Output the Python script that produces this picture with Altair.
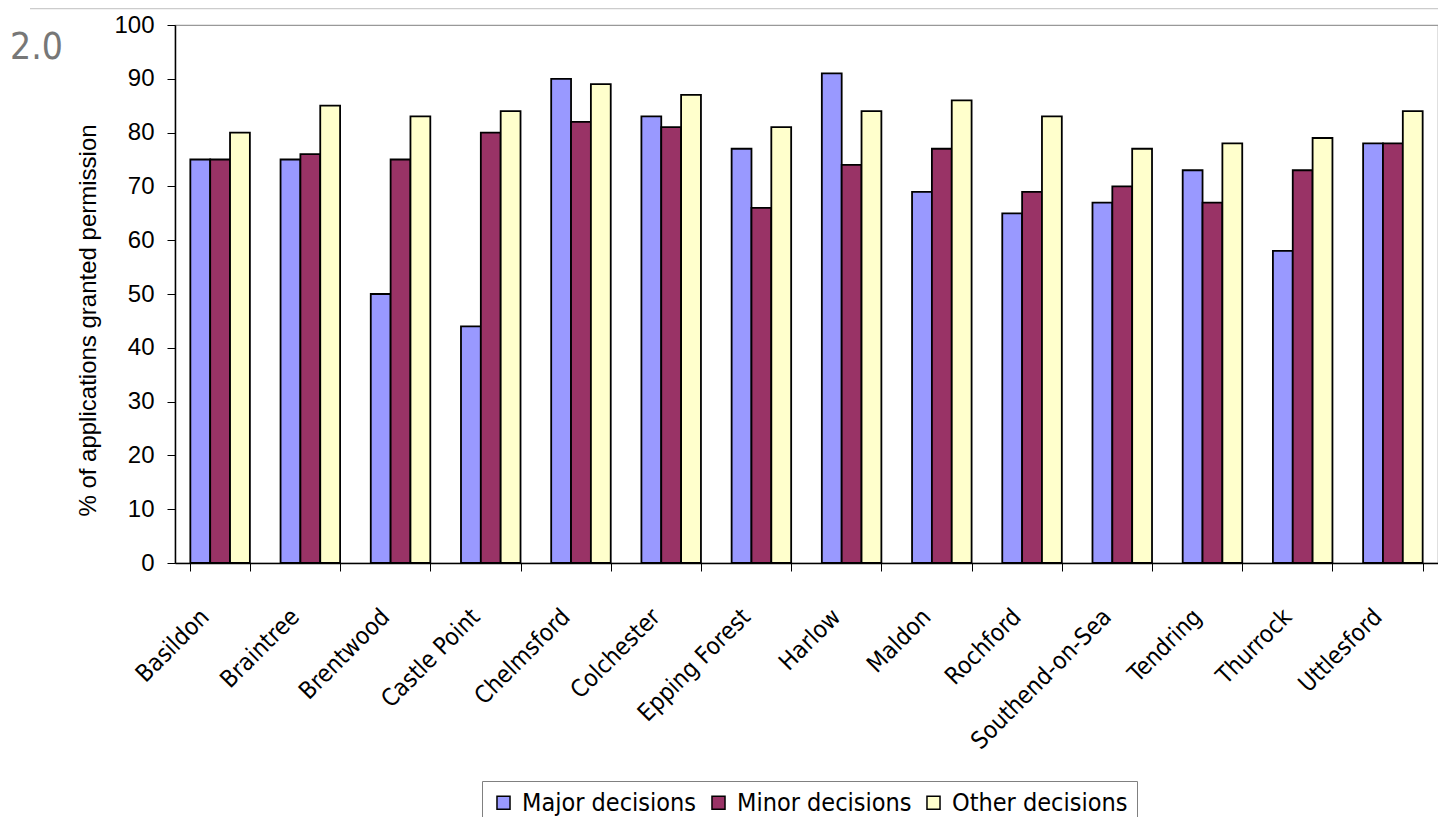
import altair as alt
import pandas as pd

districts = ["Basildon", "Braintree", "Brentwood", "Castle Point", "Chelmsford",
             "Colchester", "Epping Forest", "Harlow", "Maldon", "Rochford",
             "Southend-on-Sea", "Tendring", "Thurrock", "Uttlesford"]
major = [75, 75, 50, 44, 90, 83, 77, 91, 69, 65, 67, 73, 58, 78]
minor = [75, 76, 75, 80, 82, 81, 66, 74, 77, 69, 70, 67, 73, 78]
other = [80, 85, 83, 84, 89, 87, 81, 84, 86, 83, 77, 78, 79, 84]
series = ["Major decisions", "Minor decisions", "Other decisions"]
colors = ["#9999FF", "#993366", "#FFFFCC"]

rows = []
for i, d in enumerate(districts):
    for s, vals in zip(series, [major, minor, other]):
        rows.append({"district": d, "series": s, "value": vals[i]})
df = pd.DataFrame(rows)

W, H = 1263, 538
COND = "DejaVu Sans Condensed"

bars = alt.Chart(df).mark_bar(stroke="black", strokeWidth=1.8).encode(
    x=alt.X("district:N", sort=districts,
            scale=alt.Scale(paddingInner=0.34, paddingOuter=0.17),
            axis=alt.Axis(title=None, labelAngle=-45, labelAlign="right",
                          labelBaseline="middle", labelFont=COND,
                          labelFontSize=24, labelColor="black", labelOffset=-15,
                          labelPadding=42, labelOverlap=False, labelLimit=0,
                          tickBand="extent", tickSize=8, tickColor="black",
                          domainColor="black", domainWidth=1.5, grid=False)),
    xOffset=alt.XOffset("series:N", sort=series,
                        scale=alt.Scale(paddingInner=0, paddingOuter=0)),
    y=alt.Y("value:Q", scale=alt.Scale(domain=[0, 100], nice=False),
            axis=alt.Axis(values=list(range(0, 101, 10)), tickSize=8,
                          tickColor="black", domainColor="black", domainWidth=1.5,
                          labelFont="Liberation Sans", labelFontSize=24,
                          labelColor="black", labelPadding=13, grid=False,
                          title="% of applications granted permission",
                          titleFont="Liberation Sans", titleFontSize=24,
                          titleFontWeight="normal", titleColor="black",
                          titleX=-87, titleY=295, titleAngle=270,
                          titleAlign="center", titleBaseline="middle")),
    fill=alt.Fill("series:N", sort=series,
                  scale=alt.Scale(domain=series, range=colors),
                  legend=alt.Legend(orient="none", legendX=307, legendY=756,
                                    direction="horizontal", title=None,
                                    symbolType="square", symbolSize=170,
                                    symbolStrokeColor="black", symbolStrokeWidth=1.5,
                                    labelFont=COND,
                                    labelFontSize=25, labelColor="black",
                                    labelOffset=6, columnPadding=9, padding=9,
                                    labelLimit=0, strokeColor="#808080",
                                    fillColor="white")),
)

label_df = pd.DataFrame({"t": ["2.0"]})
version = alt.Chart(label_df).mark_text(
    align="left", baseline="alphabetic", font=COND,
    fontSize=37, color="#777777"
).encode(x=alt.value(-165), y=alt.value(34), text="t:N")

topline = alt.Chart(label_df).mark_rule(color="#cccccc", strokeWidth=1.5).encode(
    x=alt.value(-145), x2=alt.value(W), y=alt.value(-16.5))

chart = alt.layer(topline, bars, version).properties(
    width=W, height=H,
    autosize=alt.AutoSizeParams(type="none"),
    padding={"left": 167, "top": 17, "right": 0, "bottom": 254},
).configure_view(stroke="#999999", strokeWidth=1.2)

chart.save("out.html", embed_options={"renderer": "svg", "actions": False})
